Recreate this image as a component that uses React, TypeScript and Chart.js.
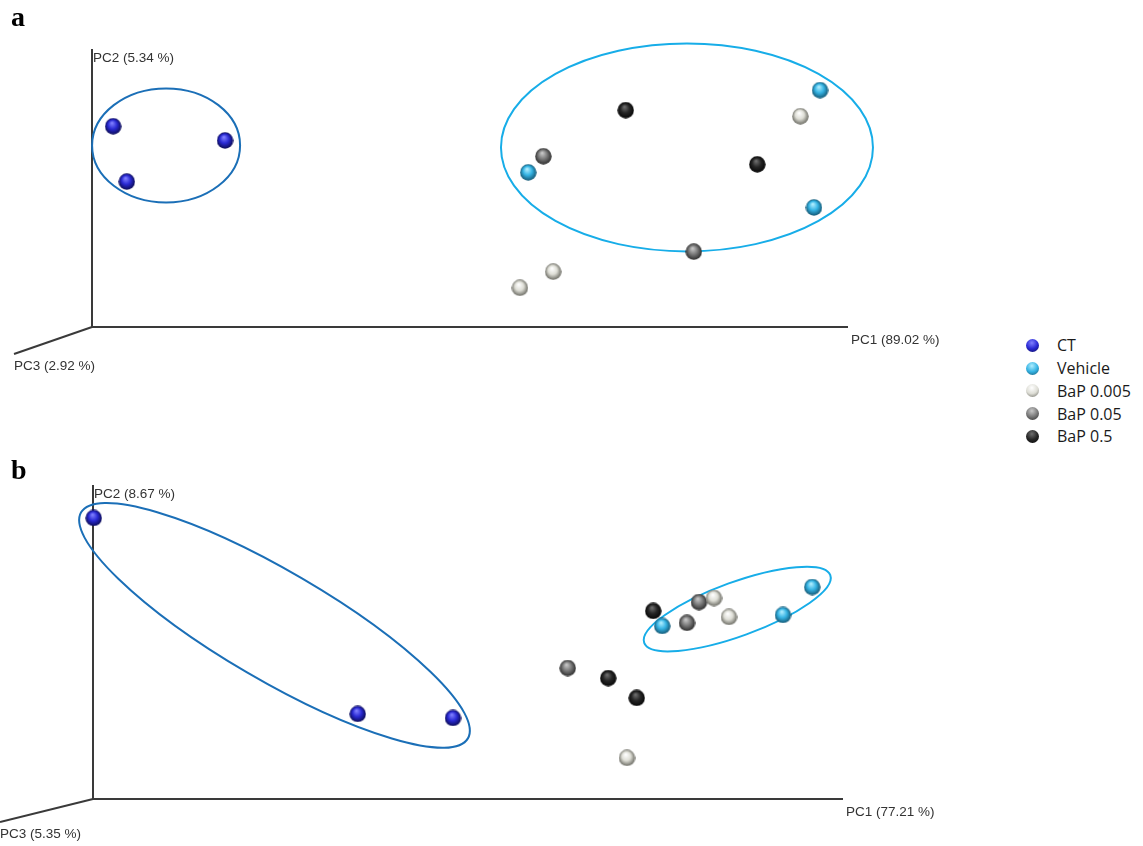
import React, { useEffect, useRef } from "react";
import { Chart, registerables } from "chart.js";

Chart.register(...registerables);

// ---------- data (PC1 / PC2 projected coordinates, 0–100 axis units) ----------
const groups = ["CT", "Vehicle", "BaP 0.005", "BaP 0.05", "BaP 0.5"];

const panelA_CT = [{ x: 2.8, y: 72.2 }, { x: 17.6, y: 67.1 }, { x: 4.6, y: 52.3 }];
const panelA_Vehicle = [{ x: 57.7, y: 55.6 }, { x: 96.3, y: 85.2 }, { x: 95.5, y: 43.0 }];
const panelA_BaP0005 = [{ x: 93.7, y: 75.8 }, { x: 61.0, y: 19.9 }, { x: 56.6, y: 14.1 }];
const panelA_BaP005 = [{ x: 59.7, y: 61.4 }, { x: 79.6, y: 27.1 }];
const panelA_BaP05 = [{ x: 70.6, y: 78.0 }, { x: 88.0, y: 58.5 }];

const panelB_CT = [{ x: 0.1, y: 89.5 }, { x: 35.3, y: 27.1 }, { x: 48.0, y: 25.8 }];
const panelB_Vehicle = [{ x: 75.9, y: 55.1 }, { x: 92.0, y: 58.6 }, { x: 95.9, y: 67.5 }];
const panelB_BaP0005 = [{ x: 82.8, y: 64.0 }, { x: 84.8, y: 58.0 }, { x: 71.2, y: 13.1 }];
const panelB_BaP005 = [{ x: 79.2, y: 56.1 }, { x: 80.8, y: 62.7 }, { x: 63.3, y: 41.7 }];
const panelB_BaP05 = [{ x: 74.7, y: 59.9 }, { x: 68.7, y: 38.5 }, { x: 72.5, y: 32.2 }];

const axisLabelsA = ["PC1 (89.02 %)", "PC2 (5.34 %)", "PC3 (2.92 %)"];
const axisLabelsB = ["PC1 (77.21 %)", "PC2 (8.67 %)", "PC3 (5.35 %)"];

// ---------- styles ----------
type Shade = { hi: string; base: string; edge: string };
const shades: Shade[] = [
  { hi: "#8080ff", base: "#2a2ad4", edge: "#0a0a50" },
  { hi: "#b0eeff", base: "#36b4e4", edge: "#125470" },
  { hi: "#ffffff", base: "#deded6", edge: "#66665e" },
  { hi: "#c8c8c8", base: "#7a7a7a", edge: "#2a2a2a" },
  { hi: "#6e6e6e", base: "#262626", edge: "#050505" },
];

type Ell = { cx: number; cy: number; rx: number; ry: number; rot: number; color: string };
type PanelCfg = {
  letter: string;
  labels: string[];
  series: { x: number; y: number }[][];
  padding: { left: number; top: number; right: number; bottom: number };
  pc3: { dx: number; dy: number };
  ellipses: Ell[];
  top: number;
  height: number;
};

const DARK_BLUE = "#1b6fb7";
const LIGHT_BLUE = "#17ade8";

const panels: PanelCfg[] = [
  {
    letter: "a",
    labels: axisLabelsA,
    series: [panelA_CT, panelA_Vehicle, panelA_BaP0005, panelA_BaP005, panelA_BaP05],
    padding: { left: 92, top: 49, right: 152, bottom: 103 },
    pc3: { dx: -78, dy: 27 },
    ellipses: [
      { cx: 9.8, cy: 65.3, rx: 74, ry: 57, rot: 0, color: DARK_BLUE },
      { cx: 78.7, cy: 64.6, rx: 186, ry: 104, rot: 0, color: LIGHT_BLUE },
    ],
    top: 0,
    height: 430,
  },
  {
    letter: "b",
    labels: axisLabelsB,
    series: [panelB_CT, panelB_Vehicle, panelB_BaP0005, panelB_BaP005, panelB_BaP05],
    padding: { left: 93, top: 55, right: 157, bottom: 47 },
    pc3: { dx: -93, dy: 23 },
    ellipses: [
      { cx: 24.2, cy: 55.3, rx: 224, ry: 54.5, rot: 30.3, color: DARK_BLUE },
      { cx: 85.9, cy: 60.5, rx: 99, ry: 27, rot: -20, color: LIGHT_BLUE },
    ],
    top: 430,
    height: 416,
  },
];

function makeSphere(s: Shade, d: number): HTMLCanvasElement {
  const cv = document.createElement("canvas");
  cv.width = d;
  cv.height = d;
  const g = cv.getContext("2d")!;
  const r = d / 2;
  const grad = g.createRadialGradient(r * 0.85, r * 0.6, r * 0.05, r, r, r);
  grad.addColorStop(0, s.hi);
  grad.addColorStop(0.5, s.base);
  grad.addColorStop(1, s.edge);
  g.fillStyle = grad;
  g.beginPath();
  g.arc(r, r, r - 0.3, 0, Math.PI * 2);
  g.fill();
  return cv;
}

function makeDecorPlugin(cfg: PanelCfg) {
  return {
    id: "pcaDecor",
    beforeDatasetsDraw(chart: any) {
      const { ctx } = chart;
      const xs = chart.scales.x;
      const ys = chart.scales.y;
      const ox = xs.getPixelForValue(0);
      const oy = ys.getPixelForValue(0);
      const xe = xs.getPixelForValue(100);
      const ye = ys.getPixelForValue(100);
      ctx.save();
      // axes
      ctx.strokeStyle = "#3a3a3a";
      ctx.lineWidth = 2;
      ctx.lineCap = "butt";
      ctx.beginPath();
      ctx.moveTo(ox, ye);
      ctx.lineTo(ox, oy);
      ctx.lineTo(xe, oy);
      ctx.stroke();
      ctx.beginPath();
      ctx.moveTo(ox, oy);
      ctx.lineTo(ox + cfg.pc3.dx, oy + cfg.pc3.dy);
      ctx.stroke();
      // axis labels
      ctx.fillStyle = "#333";
      ctx.font = '13.5px "Liberation Sans", Arial, sans-serif';
      ctx.textAlign = "left";
      ctx.textBaseline = "middle";
      ctx.fillText(cfg.labels[0], xe + 3, oy + 13);
      ctx.fillText(cfg.labels[1], ox + 1, ye + 9);
      ctx.fillText(cfg.labels[2], Math.max(0, ox + cfg.pc3.dx), oy + cfg.pc3.dy + 12);
      // panel letter
      ctx.fillStyle = "#000";
      ctx.font = 'bold 28px "Liberation Serif", "Times New Roman", serif';
      ctx.textBaseline = "alphabetic";
      ctx.fillText(cfg.letter, 11, cfg.letter === "a" ? 26 : 49);
      // cluster ellipses
      ctx.lineWidth = 2;
      for (const e of cfg.ellipses) {
        ctx.strokeStyle = e.color;
        ctx.beginPath();
        ctx.ellipse(
          xs.getPixelForValue(e.cx),
          ys.getPixelForValue(e.cy),
          e.rx,
          e.ry,
          (e.rot * Math.PI) / 180,
          0,
          Math.PI * 2
        );
        ctx.stroke();
      }
      ctx.restore();
    },
  };
}

function Panel({ cfg }: { cfg: PanelCfg }) {
  const ref = useRef<HTMLCanvasElement | null>(null);
  useEffect(() => {
    if (!ref.current) return;
    const sprites = shades.map((s) => makeSphere(s, 17));
    const chart = new Chart(ref.current, {
      type: "scatter",
      data: {
        datasets: cfg.series.map((pts, i) => ({
          label: groups[i],
          data: pts,
          pointStyle: sprites[i] as any,
          pointRadius: 8.5,
          backgroundColor: shades[i].base,
          borderColor: shades[i].edge,
          clip: false as any,
        })),
      },
      options: {
        animation: false,
        responsive: true,
        maintainAspectRatio: false,
        events: [],
        layout: { padding: cfg.padding },
        plugins: { legend: { display: false }, tooltip: { enabled: false } },
        scales: {
          x: { type: "linear", min: 0, max: 100, display: false },
          y: { type: "linear", min: 0, max: 100, display: false },
        },
      },
      plugins: [makeDecorPlugin(cfg)],
    });
    return () => chart.destroy();
  }, [cfg]);
  return (
    <div style={{ position: "absolute", left: 0, top: cfg.top, width: 1000, height: cfg.height }}>
      <canvas ref={ref} />
    </div>
  );
}

function Legend() {
  return (
    <div style={{ position: "absolute", left: 1026, top: 334, fontFamily: '"Open Sans", "Noto Sans", sans-serif', fontSize: 16, color: "#1a1a1a" }}>
      {groups.map((g, i) => (
        <div key={g} style={{ display: "flex", alignItems: "center", height: 22.75 }}>
          <div
            style={{
              width: 13,
              height: 13,
              flex: "0 0 13px",
              borderRadius: "50%",
              background: `radial-gradient(circle at 45% 30%, ${shades[i].hi} 0%, ${shades[i].base} 50%, ${shades[i].edge} 100%)`,
            }}
          />
          <span style={{ marginLeft: 18, lineHeight: "22px", whiteSpace: "nowrap" }}>{g}</span>
        </div>
      ))}
    </div>
  );
}

export default function App() {
  return (
    <div style={{ position: "absolute", left: 0, top: 0, width: 1143, height: 846, background: "#fff", overflow: "hidden" }}>
      {panels.map((p) => (
        <Panel key={p.letter} cfg={p} />
      ))}
      <Legend />
    </div>
  );
}
